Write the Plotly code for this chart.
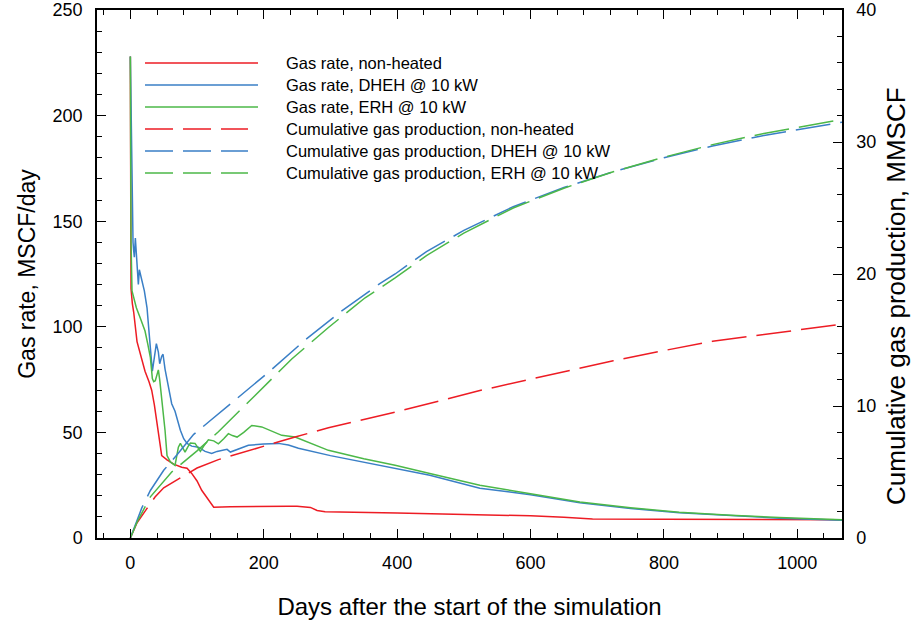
import plotly.graph_objects as go

# ---- data ----
red_rate_days = [0, 1, 3, 5, 10, 16, 22, 28, 32, 36, 40, 44, 47, 55, 65, 77, 85, 92, 100, 107, 115, 125,
                 150, 182, 237, 250, 270, 280, 292, 400, 500, 600, 650, 693, 800, 900, 1000, 1067]
red_rate = [228, 118, 111, 107, 93, 86, 79, 74, 70, 63, 54, 45, 39, 37, 35, 33.5, 33, 30.6, 27, 22.6, 19, 14.6,
            14.8, 15, 15, 15, 14.5, 13, 12.4, 11.8, 11.3, 10.5, 9.8, 9, 8.9, 8.8, 8.7, 8.6]

blue_rate_days = [0, 2, 4, 5, 6, 7.5, 9, 10, 12, 13.5, 15, 17.5, 21, 25, 27.5, 30, 33, 36, 39, 42, 44, 47, 49,
                  52, 55, 58, 62, 67, 71, 75, 80, 85, 92, 102, 112, 122, 130, 140, 145, 150, 160, 177, 200,
                  222, 237, 252, 300, 374, 449, 524, 600, 674, 750, 823, 900, 973, 1067]
blue_rate = [228, 170, 140, 136, 133, 142, 136, 131, 120, 127, 125, 122, 117, 109, 98, 90, 79, 86, 92, 88, 82.5,
             86, 87, 80, 74.5, 70, 63.6, 60, 55, 51, 47, 44.8, 43.5, 43, 41, 40, 41, 41.5, 42, 40.7, 42, 43.9,
             44.5, 44.8, 44, 42.5, 39, 34.4, 29.7, 23.6, 20.5, 16.7, 14, 12, 10.6, 9.4, 8.4]

green_rate_days = [0, 1, 2.5, 5, 9, 15, 22, 26, 30, 33, 35, 37.4, 40, 42, 44, 47, 50, 52, 55, 60, 67, 70, 72,
                   75, 78, 82, 86, 90, 97, 101, 105, 110, 117, 125, 132, 140, 147, 153, 160, 170, 182, 197,
                   210, 227, 247, 270, 297, 350, 397, 449, 524, 600, 674, 750, 823, 900, 973, 1067]
green_rate = [228, 140, 117, 114, 109, 104, 98, 92, 85.5, 75.5, 74, 74.5, 78, 79.6, 75, 66.6, 57, 51, 39, 36,
              34.4, 39, 43, 44.8, 43, 40.7, 43, 45, 44.8, 43, 41, 43.5, 46.5, 46, 44.6, 47, 49.4, 48.5, 47.8,
              50, 53.3, 52.6, 51, 48.6, 47.8, 45, 41.5, 37.5, 34.4, 30.5, 25, 21, 17, 14.3, 12.2, 10.8, 9.7, 8.7]

red_cum_days = [0, 10, 25, 37, 50, 77, 100, 132, 187, 247, 297, 357, 397, 524, 724, 800, 873, 1000, 1067]
red_cum = [0, 1.15, 2.24, 3.1, 3.8, 4.6, 5.3, 5.94, 6.77, 7.65, 8.35, 9.08, 9.53, 11.17, 13.43, 14.2, 14.9,
           15.75, 16.2]

blue_cum_days = [0, 10, 17, 30, 50, 70, 95, 120, 150, 207, 262, 317, 374, 397, 444, 500, 574, 650, 724, 800,
                 873, 950, 1067]
blue_cum = [0, 1.35, 2.26, 3.6, 5.13, 6.3, 7.85, 8.9, 10.17, 12.55, 15.0, 17.2, 19.27, 20.0, 21.7, 23.3, 25.1,
            26.55, 27.75, 28.8, 29.7, 30.5, 31.5]

green_cum_days = [0, 10, 30, 62, 100, 132, 187, 242, 297, 352, 397, 444, 500, 574, 650, 724, 800, 873, 950,
                  1067]
green_cum = [0, 1.2, 3.12, 5.0, 6.6, 8.05, 10.8, 13.56, 15.95, 18.2, 19.7, 21.4, 23.1, 25.0, 26.5, 27.75,
             28.85, 29.8, 30.65, 31.7]

RED, BLUE, GREEN = "#ED1C24", "#3A7FC6", "#4CB848"
legend_labels = ["Gas rate, non-heated", "Gas rate, DHEH @ 10 kW", "Gas rate, ERH @ 10 kW",
                 "Cumulative gas production, non-heated", "Cumulative gas production, DHEH @ 10 kW",
                 "Cumulative gas production, ERH @ 10 kW"]
DASH = "35px,10px"
FONT = "Liberation Sans, Arial"

fig = go.Figure()
for x, y, c, name in [(red_rate_days, red_rate, RED, legend_labels[0]),
                      (blue_rate_days, blue_rate, BLUE, legend_labels[1]),
                      (green_rate_days, green_rate, GREEN, legend_labels[2])]:
    fig.add_trace(go.Scatter(x=x, y=y, mode="lines", name=name, line=dict(color=c, width=1.5),
                             showlegend=False))
for x, y, c, name in [(red_cum_days, red_cum, RED, legend_labels[3]),
                      (blue_cum_days, blue_cum, BLUE, legend_labels[4]),
                      (green_cum_days, green_cum, GREEN, legend_labels[5])]:
    fig.add_trace(go.Scatter(x=x, y=y, mode="lines", name=name, yaxis="y2",
                             line=dict(color=c, width=1.5, dash=DASH), showlegend=False))

# ---- manual legend (long line samples like the reference) ----
W, H = 924, 627
L, R, T, B = 97, 82, 10, 89
pw, ph = W - L - R, H - T - B
def px_x(p):
    return (p - L) / pw
def px_y(p):
    return 1 - (p - T) / ph

colors = [RED, BLUE, GREEN, RED, BLUE, GREEN]
for i, (lab, c) in enumerate(zip(legend_labels, colors)):
    yy = 63 + 22 * i
    fig.add_shape(type="line", xref="paper", yref="paper",
                  x0=px_x(145), x1=px_x(258 if i < 3 else 248), y0=px_y(yy), y1=px_y(yy),
                  line=dict(color=c, width=1.5, dash="solid" if i < 3 else "28px,10px"))
    fig.add_annotation(xref="paper", yref="paper", x=px_x(284), y=px_y(yy), text=lab,
                       showarrow=False, xanchor="left", yanchor="middle",
                       font=dict(family=FONT, size=16.5, color="black"))

# right axis title (sits a little below the plot centre in the reference)
fig.add_annotation(xref="paper", yref="paper", x=px_x(896), y=px_y(296),
                   text="Cumulative gas production, MMSCF", textangle=-90, showarrow=False,
                   xanchor="center", yanchor="middle",
                   font=dict(family=FONT, size=26, color="black"))

axis_common = dict(showline=True, linecolor="black", linewidth=1.5, ticks="inside",
                   tickcolor="black", tickwidth=1.2, showgrid=False, zeroline=False,
                   automargin=False,
                   tickfont=dict(family=FONT, size=18, color="black"))

fig.update_layout(
    width=W, height=H,
    margin=dict(l=L, r=R, t=T, b=B),
    plot_bgcolor="white", paper_bgcolor="white",
    showlegend=False,
    xaxis=dict(range=[-50, 1067], dtick=200, tick0=0, ticklen=9, mirror="ticks",
               ticklabelstandoff=8,
               minor=dict(dtick=40, tick0=0, ticks="inside", ticklen=5, tickcolor="black"),
               title=dict(text="Days after the start of the simulation", standoff=26,
                          font=dict(family=FONT, size=24, color="black")),
               **axis_common),
    yaxis=dict(range=[0, 250], dtick=50, ticklen=9, ticklabelstandoff=9,
               minor=dict(dtick=10, ticks="inside", ticklen=5, tickcolor="black"),
               title=dict(text="Gas rate, MSCF/day", standoff=11,
                          font=dict(family=FONT, size=23, color="black")),
               **axis_common),
    yaxis2=dict(range=[0, 40], dtick=10, ticklen=9, overlaying="y", side="right",
                ticklabelstandoff=9,
                minor=dict(dtick=2, ticks="inside", ticklen=5, tickcolor="black"),
                **axis_common),
)

fig.write_html("out.html", config={"displayModeBar": False},
               post_script="document.body.style.margin='0px';")
